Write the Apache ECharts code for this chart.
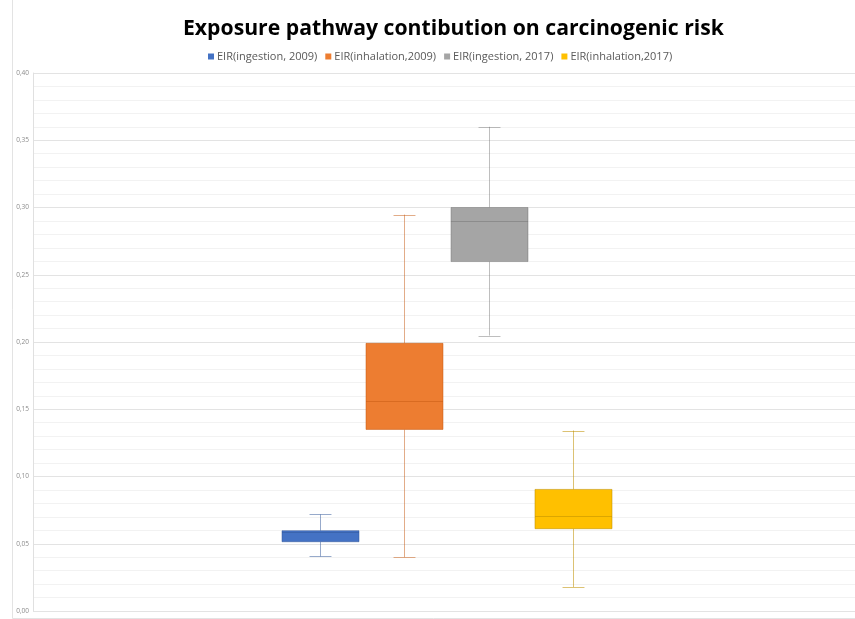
<!DOCTYPE html>
<html>
<head>
<meta charset="utf-8">
<script src="https://cdn.jsdelivr.net/npm/echarts@6/dist/echarts.min.js"></script>
<style>
html,body{margin:0;padding:0;background:#fff;}
#chart{width:855px;height:619px;}
</style>
</head>
<body>
<div id="chart"></div>
<script>
// ---- data ----
const seriesNames = ['EIR(ingestion, 2009)', 'EIR(inhalation,2009)', 'EIR(ingestion, 2017)', 'EIR(inhalation,2017)'];
const minValues    = [0.0406, 0.0400, 0.2048, 0.0178];
const q1Values     = [0.0515, 0.1350, 0.2598, 0.0612];
const medianValues = [0.0590, 0.1560, 0.2903, 0.0704];
const q3Values     = [0.0597, 0.1990, 0.3000, 0.0904];
const maxValues    = [0.0718, 0.2947, 0.3600, 0.1342];
const yTicks = [0, 0.05, 0.10, 0.15, 0.20, 0.25, 0.30, 0.35, 0.40];

// ---- styles ----
const fillColors = ['#4472C4', '#ED7D31', '#A5A5A5', '#FFC000'];
const lineColors = ['rgba(47,85,151,0.5)', 'rgba(197,90,17,0.5)', 'rgba(110,110,110,0.45)', 'rgba(191,144,0,0.55)'];

const chart = echarts.init(document.getElementById('chart'));

function makeRender(idx) {
  return function (params, api) {
    const x = api.value(0);
    const lo = api.coord([x, api.value(1)]);
    const q1 = api.coord([x, api.value(2)]);
    const med = api.coord([x, api.value(3)]);
    const q3 = api.coord([x, api.value(4)]);
    const hi = api.coord([x, api.value(5)]);
    const unit = api.size([1, 0])[0];
    const bw = unit * 0.913;
    const cw = unit * 0.26;
    const cx = Math.round(lo[0]) + 0.5;
    const lc = lineColors[idx];
    const ls = { stroke: lc, lineWidth: 1 };
    return {
      type: 'group',
      children: [
        { type: 'line', shape: { x1: cx, y1: hi[1], x2: cx, y2: q3[1] }, style: ls },
        { type: 'line', shape: { x1: cx, y1: q1[1], x2: cx, y2: lo[1] }, style: ls },
        { type: 'line', shape: { x1: cx - cw / 2, y1: Math.round(hi[1]) + 0.5, x2: cx + cw / 2, y2: Math.round(hi[1]) + 0.5 }, style: ls },
        { type: 'line', shape: { x1: cx - cw / 2, y1: Math.round(lo[1]) + 0.5, x2: cx + cw / 2, y2: Math.round(lo[1]) + 0.5 }, style: ls },
        { type: 'rect', shape: { x: cx - bw / 2, y: q3[1], width: bw, height: q1[1] - q3[1] },
          style: { fill: fillColors[idx], stroke: lc, lineWidth: 1 } },
        { type: 'line', shape: { x1: cx - bw / 2, y1: Math.round(med[1]) + 0.5, x2: cx + bw / 2, y2: Math.round(med[1]) + 0.5 }, style: ls }
      ]
    };
  };
}

const series = seriesNames.map(function (name, i) {
  return {
    name: name,
    type: 'custom',
    clip: false,
    itemStyle: { color: fillColors[i] },
    encode: { x: 0, y: [1, 2, 3, 4, 5] },
    renderItem: makeRender(i),
    data: [[i + 1, minValues[i], q1Values[i], medianValues[i], q3Values[i], maxValues[i]]]
  };
});

chart.setOption({
  animation: false,
  backgroundColor: '#ffffff',
  title: {
    text: 'Exposure pathway contibution on carcinogenic risk',
    left: 178,
    top: 13,
    textStyle: { fontFamily: 'Open Sans', fontWeight: 'bold', fontSize: 21.2, color: '#000000' }
  },
  legend: {
    top: 46,
    left: 203,
    icon: 'rect',
    itemWidth: 6,
    itemHeight: 6,
    itemGap: 8,
    textStyle: { fontFamily: 'Open Sans', fontSize: 11, color: '#595959', padding: [0, 0, 0, -2] },
    data: seriesNames
  },
  graphic: [{
    type: 'polyline',
    shape: { points: [[12.5, 0], [12.5, 618.5], [855, 618.5]] },
    style: { stroke: '#e3e3e3', lineWidth: 1, fill: null }
  }],
  grid: { left: 33, right: 0, top: 73, bottom: 8 },
  xAxis: {
    type: 'value',
    min: -2.403,
    max: 7.344,
    show: false
  },
  yAxis: {
    type: 'value',
    min: yTicks[0],
    max: yTicks[yTicks.length - 1],
    interval: 0.05,
    axisLine: { show: true, onZero: false, lineStyle: { color: '#e0e0e0' } },
    axisTick: { show: false },
    axisLabel: {
      fontFamily: 'Open Sans',
      fontSize: 6.5,
      color: '#8c8c8c',
      margin: 4,
      formatter: function (v) { return v.toFixed(2).replace('.', ','); }
    },
    splitLine: { lineStyle: { color: '#e3e3e3', width: 1 } },
    minorTick: { show: false, splitNumber: 5 },
    minorSplitLine: { show: true, lineStyle: { color: '#f2f2f2', width: 1 } }
  },
  series: series
});
</script>
</body>
</html>
